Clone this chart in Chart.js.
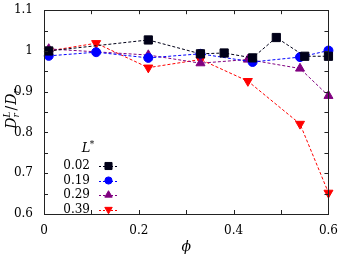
<!DOCTYPE html>
<html>
<head>
<meta charset="utf-8">
<script src="https://cdn.jsdelivr.net/npm/chart.js@4"></script>
<style>
  html, body { margin: 0; padding: 0; background: #fff; }
  #wrap { width: 340px; height: 255px; }
</style>
</head>
<body>
<div id="wrap"><canvas id="myChart" width="340" height="255"></canvas></div>
<script>
// values
const seriesLabels = ['0.02', '0.19', '0.29', '0.39'];
const phi002 = [0.01, 0.22, 0.33, 0.38, 0.44, 0.49, 0.55, 0.60];
const val002 = [1.000, 1.027, 0.993, 0.995, 0.983, 1.033, 0.987, 0.987];
const phi019 = [0.01, 0.11, 0.22, 0.33, 0.44, 0.54, 0.60];
const val019 = [0.988, 0.997, 0.983, 0.993, 0.973, 0.985, 1.001];
const phi029 = [0.01, 0.22, 0.33, 0.43, 0.54, 0.60];
const val029 = [1.005, 0.990, 0.970, 0.979, 0.957, 0.890];
const phi039 = [0.01, 0.11, 0.22, 0.33, 0.43, 0.54, 0.60];
const val039 = [1.000, 1.019, 0.959, 0.979, 0.926, 0.821, 0.652];
const xTicks = [0, 0.2, 0.4, 0.6];
const yTicks = [0.6, 0.7, 0.8, 0.9, 1, 1.1];

const colors = ['#000018', '#0000ff', '#800080', '#ff0000'];
const shapes = ['rect', 'circle', 'triangle', 'triangle'];
const rots = [0, 0, 0, 180];
const radii = [5.8, 4.5, 5.2, 5.2];
const legendRadii = [5, 3.6, 4.3, 4.3];
const FONT = 'DejaVu Serif';

function pts(xs, ys) {
  return xs.map((x, i) => ({ x: x, y: ys[i] }));
}
const allData = [pts(phi002, val002), pts(phi019, val019), pts(phi029, val029), pts(phi039, val039)];

const datasets = allData.map((d, i) => ({
  label: seriesLabels[i],
  data: d,
  borderColor: colors[i],
  backgroundColor: colors[i],
  borderWidth: 1,
  borderDash: [3, 2],
  pointStyle: shapes[i],
  rotation: rots[i],
  pointRadius: radii[i],
  pointBorderWidth: 1,
  clip: false,
  tension: 0
}));

function near(v, list) {
  return list.some(t => Math.abs(t - v) < 1e-6);
}

// frame, inward ticks, axis titles and legend
const decor = {
  id: 'decor',
  afterDraw(chart) {
    const ctx = chart.ctx;
    const a = chart.chartArea;
    const xs = chart.scales.x, ys = chart.scales.y;
    ctx.save();
    ctx.strokeStyle = '#222';
    ctx.lineWidth = 1;
    ctx.setLineDash([]);
    ctx.strokeRect(Math.round(a.left) + 0.5, Math.round(a.top) + 0.5,
      Math.round(a.right - a.left), Math.round(a.bottom - a.top));
    ctx.beginPath();
    for (let v = 0; v <= 0.6001; v += 0.1) {
      const px = Math.round(xs.getPixelForValue(v)) + 0.5;
      ctx.moveTo(px, a.bottom); ctx.lineTo(px, a.bottom - 4);
      ctx.moveTo(px, a.top); ctx.lineTo(px, a.top + 4);
    }
    for (let v = 0.6; v <= 1.1001; v += 0.05) {
      const py = Math.round(ys.getPixelForValue(v)) + 0.5;
      ctx.moveTo(a.left, py); ctx.lineTo(a.left + 4, py);
      ctx.moveTo(a.right, py); ctx.lineTo(a.right - 4, py);
    }
    ctx.stroke();

    ctx.fillStyle = '#000';
    // x title
    ctx.font = 'italic 14px ' + FONT;
    ctx.textAlign = 'center';
    ctx.textBaseline = 'middle';
    ctx.fillText('ϕ', (a.left + a.right) / 2, 247);

    // y title  D_r^L / D_r
    ctx.save();
    ctx.translate(11, 109);
    ctx.rotate(-Math.PI / 2);
    ctx.textAlign = 'left';
    ctx.textBaseline = 'alphabetic';
    const big = 'italic 14px ' + FONT, small = 'italic 9px ' + FONT;
    ctx.font = big; const wD = ctx.measureText('D').width;
    ctx.font = small; const wL = ctx.measureText('L').width, wr = ctx.measureText('r').width;
    ctx.font = '14px ' + FONT; const wS = ctx.measureText('/').width;
    const total = wD + Math.max(wL, wr) + 1 + wS + 1 + wD + wr;
    let x = -total / 2;
    const base = 5;
    ctx.font = big; ctx.fillText('D', x, base); x += wD;
    ctx.font = small; ctx.fillText('L', x, base - 6); ctx.fillText('r', x, base + 3);
    x += Math.max(wL, wr) + 1;
    ctx.font = '14px ' + FONT; ctx.fillText('/', x, base); x += wS + 1;
    ctx.font = big; ctx.fillText('D', x, base); x += wD;
    ctx.font = small; ctx.fillText('r', x, base + 3);
    ctx.restore();

    // legend
    ctx.font = 'italic 13px ' + FONT;
    ctx.textAlign = 'center';
    ctx.textBaseline = 'middle';
    ctx.fillText('L', 86, 149);
    ctx.font = '9px ' + FONT;
    ctx.fillText('*', 92, 145);
    const rowY = [166, 180.5, 195, 209.5];
    chart.data.datasets.forEach((ds, i) => {
      const y = rowY[i];
      ctx.fillStyle = '#000';
      ctx.font = '12px ' + FONT;
      ctx.textAlign = 'right';
      ctx.fillText(ds.label, 90, y);
      ctx.strokeStyle = ds.borderColor;
      ctx.lineWidth = 1;
      ctx.setLineDash([2, 2]);
      ctx.beginPath();
      ctx.moveTo(99, Math.round(y) + 0.5); ctx.lineTo(119, Math.round(y) + 0.5);
      ctx.stroke();
      ctx.setLineDash([]);
      ctx.fillStyle = ds.backgroundColor;
      Chart.helpers.drawPoint(ctx, {
        pointStyle: ds.pointStyle, rotation: ds.rotation,
        radius: legendRadii[i], borderWidth: 1
      }, 108.5, y);
    });
    ctx.restore();
  }
};

const config = {
  type: 'line',
  data: { datasets: datasets },
  options: {
    responsive: false,
    animation: false,
    layout: { padding: { left: 0, right: 11, top: 7, bottom: 0 } },
    plugins: { legend: { display: false }, tooltip: { enabled: false } },
    scales: {
      x: {
        type: 'linear',
        min: 0, max: 0.6,
        grid: { display: false },
        border: { display: false },
        afterFit: s => { s.height = 41; },
        afterBuildTicks: s => { s.ticks = xTicks.map(v => ({ value: v })); },
        ticks: {
          color: '#000',
          padding: 2,
          font: { family: FONT, size: 12 },
          callback: v => near(v, xTicks) ? String(v) : ''
        }
      },
      y: {
        min: 0.6, max: 1.1,
        grid: { display: false },
        border: { display: false },
        afterFit: s => { s.width = 44; },
        afterBuildTicks: s => { s.ticks = yTicks.map(v => ({ value: v })); },
        ticks: {
          color: '#000',
          padding: 3,
          font: { family: FONT, size: 12 },
          callback: v => near(v, yTicks) ? String(Math.round(v * 10) / 10) : ''
        }
      }
    }
  },
  plugins: [decor]
};

const myChart = new Chart(document.getElementById('myChart'), config);
</script>
</body>
</html>
